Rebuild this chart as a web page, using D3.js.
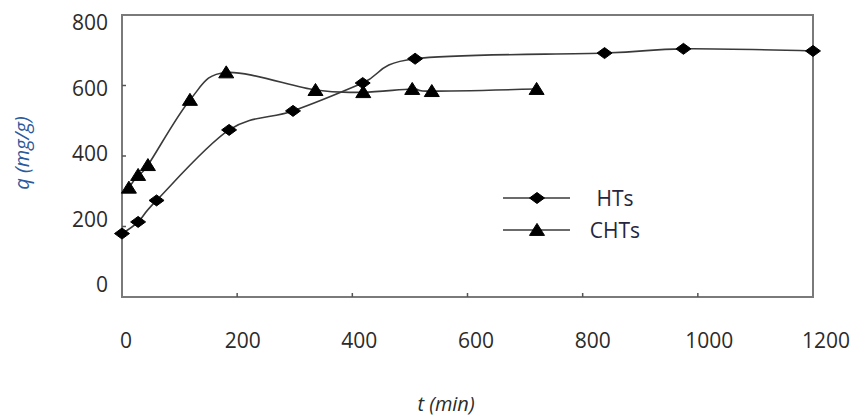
<!DOCTYPE html>
<html>
<head>
<meta charset="utf-8">
<script src="https://cdn.jsdelivr.net/npm/d3@7/dist/d3.min.js"></script>
<style>
  html, body { margin: 0; padding: 0; background: #fff; }
  svg { display: block; }
  text { font-family: "Open Sans", "Noto Sans", sans-serif; }
</style>
</head>
<body>
<svg id="chart" width="850" height="415"></svg>
<script>
// Adsorption kinetics: uptake q (mg/g) versus contact time t (min)
const htsTime = [0, 28, 60, 186, 297, 418, 509, 838, 975, 1200];
const htsQ    = [180, 213, 274, 474, 528, 607, 676, 692, 704, 698];

const chtsTime = [12, 28, 45, 118, 181, 336, 419, 504, 538, 720];
const chtsQ    = [310, 346, 374, 559, 637, 587, 581, 590, 584, 590];

const xTicks = [0, 200, 400, 600, 800, 1000, 1200];
const yTicks = [0, 200, 400, 600, 800];

const seriesNames = ["HTs", "CHTs"];

const svg = d3.select("#chart");

const plot = { left: 122, right: 813, top: 15, bottom: 297 };

const x = d3.scaleLinear().domain([0, 1200]).range([plot.left, plot.right]);
const y = d3.scaleLinear().domain([0, 800]).range([plot.bottom, plot.top]);

// tick labels sit slightly inset from the frame
const xLabel = d3.scaleLinear().domain([0, 1200]).range([126, 826]);
const yLabel = d3.scaleLinear().domain([0, 800]).range([284, 22]);

const frameColor = "#7a7a7a";
const lineColor = "#3a3a3a";
const textColor = "#2b2b2b";

// plot frame
svg.append("rect")
  .attr("x", plot.left).attr("y", plot.top)
  .attr("width", plot.right - plot.left).attr("height", plot.bottom - plot.top)
  .attr("fill", "none").attr("stroke", frameColor).attr("stroke-width", 2);

// inward tick marks
svg.append("g").selectAll("line").data(xTicks.slice(1, -1)).join("line")
  .attr("x1", d => x(d)).attr("x2", d => x(d))
  .attr("y1", plot.bottom).attr("y2", plot.bottom - 4)
  .attr("stroke", "#555").attr("stroke-width", 1.5);
svg.append("g").selectAll("line").data(yTicks.slice(1, -1)).join("line")
  .attr("x1", plot.left).attr("x2", plot.left + 4)
  .attr("y1", d => y(d)).attr("y2", d => y(d))
  .attr("stroke", "#555").attr("stroke-width", 1.5);

// tick labels
svg.append("g").selectAll("text").data(xTicks).join("text")
  .attr("x", d => xLabel(d)).attr("y", 340)
  .attr("text-anchor", "middle").attr("dominant-baseline", "central")
  .attr("font-size", 21).attr("fill", textColor)
  .text(d => d);
svg.append("g").selectAll("text").data(yTicks).join("text")
  .attr("x", 108).attr("y", d => yLabel(d))
  .attr("text-anchor", "end").attr("dominant-baseline", "central")
  .attr("font-size", 21).attr("fill", textColor)
  .text(d => d);

// axis titles
svg.append("text")
  .attr("transform", "translate(21,153) rotate(-90)")
  .attr("text-anchor", "middle").attr("dominant-baseline", "central")
  .attr("font-size", 20).attr("font-style", "italic").attr("fill", "#2d5a9c")
  .text("q (mg/g)");
svg.append("text")
  .attr("x", 446).attr("y", 403)
  .attr("text-anchor", "middle").attr("dominant-baseline", "central")
  .attr("font-size", 20).attr("font-style", "italic").attr("fill", textColor)
  .text("t (min)");

// markers
const diamond = (w, h) => `M${-w / 2},0L0,${-h / 2}L${w / 2},0L0,${h / 2}Z`;
const triangle = (w, h) => `M${-w / 2},${h * 0.45}L${w / 2},${h * 0.45}L0,${-h * 0.55}Z`;
const markerPaths = [diamond(15, 11), triangle(15, 12)];

const series = [
  htsTime.map((t, i) => ({ t, q: htsQ[i] })),
  chtsTime.map((t, i) => ({ t, q: chtsQ[i] }))
];

const line = d3.line()
  .x(d => x(d.t)).y(d => y(d.q))
  .curve(d3.curveCatmullRom.alpha(0));

series.forEach((pts, s) => {
  svg.append("path")
    .datum(pts)
    .attr("d", line)
    .attr("fill", "none").attr("stroke", lineColor).attr("stroke-width", 1.6);
  svg.append("g").selectAll("path").data(pts).join("path")
    .attr("transform", d => `translate(${x(d.t)},${y(d.q)})`)
    .attr("d", markerPaths[s])
    .attr("fill", "#000")
    .attr("stroke", "#000").attr("stroke-width", 1).attr("stroke-linejoin", "round");
});

// legend
const legendY = [198, 230];
seriesNames.forEach((name, s) => {
  const g = svg.append("g").attr("transform", `translate(0,${legendY[s]})`);
  g.append("line").attr("x1", 503).attr("x2", 570).attr("y1", 0).attr("y2", 0)
    .attr("stroke", lineColor).attr("stroke-width", 1.6);
  g.append("path").attr("transform", "translate(537,0)").attr("d", markerPaths[s])
    .attr("fill", "#000").attr("stroke", "#000").attr("stroke-width", 1).attr("stroke-linejoin", "round");
  g.append("text").attr("x", 615).attr("y", 0)
    .attr("text-anchor", "middle").attr("dominant-baseline", "central")
    .attr("font-size", 21).attr("fill", "#262640")
    .text(name);
});
</script>
</body>
</html>
